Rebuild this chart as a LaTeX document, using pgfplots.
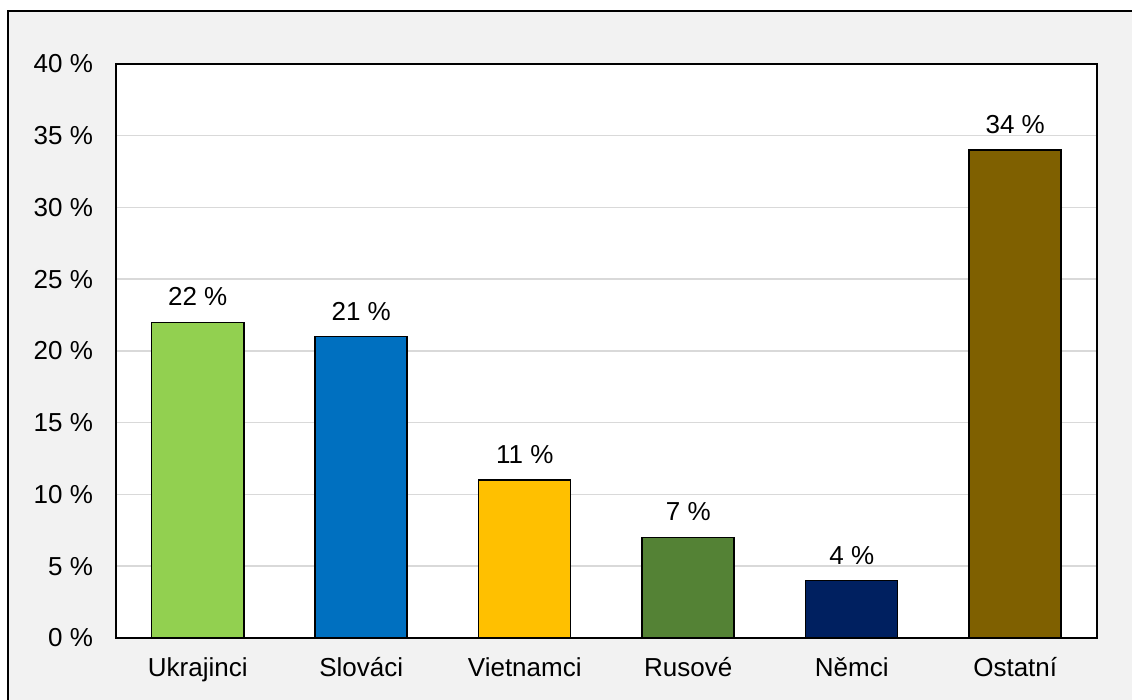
\documentclass[border=0pt]{standalone}
\usepackage{fontspec}
\setmainfont{Liberation Sans}
\usepackage{pgfplots}
\pgfplotsset{compat=1.18}

\definecolor{bggray}{HTML}{F2F2F2}
\definecolor{gridgray}{HTML}{D9D9D9}
\definecolor{cUkr}{HTML}{92D050}
\definecolor{cSlo}{HTML}{0070C0}
\definecolor{cVie}{HTML}{FFC000}
\definecolor{cRus}{HTML}{548235}
\definecolor{cNem}{HTML}{002060}
\definecolor{cOst}{HTML}{7F6000}

\begin{document}
\begin{tikzpicture}
\useasboundingbox (0,0) rectangle (566pt,350pt);
\fill[bggray, draw=black, line width=1pt] (4pt,-5pt) rectangle (575pt,344.5pt);
\begin{axis}[
    at={(58pt,31pt)}, anchor=south west,
    scale only axis,
    width=490.5pt, height=287pt,
    ybar, bar width=46pt, bar shift=0pt,
    xmin=-0.5, xmax=5.5,
    ymin=0, ymax=40,
    xtick={0,1,2,3,4,5},
    xticklabels={Ukrajinci, Slováci, Vietnamci, Rusové, Němci, Ostatní},
    ytick={0,5,...,40},
    yticklabel={\pgfmathparse{int(\tick)}\pgfmathresult~\%},
    major tick length=0pt,
    ymajorgrids,
    grid style={gridgray, line width=0.75pt},
    axis line style={black, line width=0.75pt},
    axis background/.style={fill=white},
    /pgf/number format/assume math mode=true,
    tick label style={font=\fontsize{13}{15}\selectfont},
    yticklabel style={xshift=-8pt},
    xticklabel style={yshift=-6pt, text height=9.5pt, text depth=2.5pt},
    nodes near coords={\pgfmathprintnumber{\pgfplotspointmeta}~\%},
    every node near coord/.append style={font=\fontsize{13}{15}\selectfont, black, yshift=4.5pt},
    every axis plot/.append style={draw=black, line width=0.75pt},
]
\addplot[fill=cUkr] coordinates {(0,22)};
\addplot[fill=cSlo] coordinates {(1,21)};
\addplot[fill=cVie] coordinates {(2,11)};
\addplot[fill=cRus] coordinates {(3,7)};
\addplot[fill=cNem] coordinates {(4,4)};
\addplot[fill=cOst] coordinates {(5,34)};
\end{axis}
\end{tikzpicture}
\end{document}
